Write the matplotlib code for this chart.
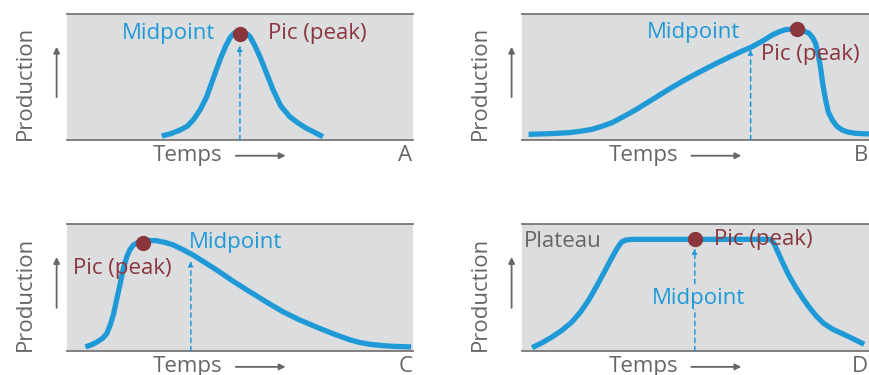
import matplotlib.pyplot as plt

plt.rcParams['font.family'] = ['Open Sans', 'DejaVu Sans']

# curve points (x: 0-100 time, y: 0-100 production)
a_x = [27.4, 30.0, 32.7, 34.8, 36.5, 38.5, 40.4, 42.3, 44.2, 45.8, 47.1, 48.2, 49.0, 50.0, 51.0, 51.9, 52.9, 54.3, 55.8, 57.7, 59.6, 61.8, 64.4, 66.8, 69.2, 71.6, 74.0]
a_y = [3.2, 5.0, 7.9, 11.0, 15.9, 24.0, 34.4, 49.0, 63.5, 74.0, 81.0, 84.5, 85.8, 86.0, 85.8, 84.5, 82.0, 75.0, 66.0, 53.0, 39.7, 27.0, 18.5, 13.5, 9.3, 6.0, 2.6]

b_x = [1.9, 8.0, 13.5, 17.0, 20.2, 23.0, 26.0, 29.0, 32.7, 37.5, 42.3, 47.0, 51.9, 55.8, 59.6, 63.0, 66.3, 69.3, 72.1, 74.2, 76.0, 77.8, 79.3, 81.0, 82.7, 83.8, 84.6, 85.3, 86.0, 86.7, 87.5, 88.3, 89.4, 90.7, 92.3, 94.0, 96.2, 98.0, 100]
b_y = [4.5, 5.0, 5.8, 7.0, 8.5, 10.8, 13.8, 18.2, 23.8, 32.0, 40.2, 47.8, 55.0, 60.5, 65.6, 70.0, 74.0, 78.5, 83.3, 86.0, 87.6, 88.0, 87.8, 86.8, 84.7, 81.0, 76.7, 68.5, 58.2, 44.0, 31.7, 22.0, 15.9, 11.0, 7.9, 6.2, 5.3, 5.0, 4.8]

c_x = [5.3, 7.0, 8.7, 10.3, 11.5, 12.5, 13.5, 14.4, 15.4, 16.3, 17.3, 18.2, 19.2, 20.6, 22.1, 24.0, 26.0, 28.3, 30.8, 33.5, 36.5, 39.8, 43.3, 48.0, 52.9, 57.7, 62.5, 67.3, 72.1, 77.0, 81.7, 84.5, 87.5, 91.0, 94.2, 99.5]
c_y = [3.2, 4.8, 7.1, 10.0, 13.7, 20.5, 29.5, 41.0, 53.2, 65.0, 74.2, 79.8, 83.4, 85.6, 86.6, 87.0, 86.8, 85.5, 83.4, 79.8, 75.5, 69.8, 63.7, 55.0, 46.6, 38.5, 30.8, 24.4, 18.9, 13.5, 8.9, 6.8, 5.3, 4.3, 3.7, 3.2]

d_x = [2.9, 5.8, 8.7, 11.6, 14.4, 16.8, 19.2, 21.6, 24.0, 25.8, 27.4, 28.2, 28.8, 30.0, 31.7, 42.3, 56.0, 71.2, 72.0, 72.6, 73.8, 75.0, 76.8, 78.8, 80.8, 82.7, 84.8, 87.0, 89.6, 92.3, 95.5, 98.6]
d_y = [2.6, 6.5, 11.1, 16.5, 22.9, 30.5, 40.0, 51.5, 63.7, 73.0, 80.8, 84.0, 86.0, 87.4, 87.9, 87.9, 87.9, 87.9, 86.8, 84.7, 77.5, 70.3, 60.0, 50.5, 42.0, 34.7, 27.5, 21.6, 17.0, 13.7, 9.5, 5.3]

# peak dot, midpoint arrow (x, top)
peaks = {'A': (50.0, 84.0), 'B': (79.3, 88.0), 'C': (21.9, 84.7), 'D': (49.8, 87.9)}
mids = {'A': (50.0, 75.0), 'B': (65.9, 72.0), 'C': (35.8, 70.8), 'D': (49.8, 80.8)}

blue = '#1f9ad6'
red = '#8a363c'
gray = '#666666'
bg = '#dcdddf'
fs = 16

fig = plt.figure(figsize=(8.69, 3.75), dpi=100)
boxes = {'A': [0.0771, 0.6267, 0.398, 0.336],
         'B': [0.6007, 0.6267, 0.3993, 0.336],
         'C': [0.0771, 0.064, 0.398, 0.3387],
         'D': [0.6007, 0.064, 0.3993, 0.3387]}
curves = {'A': (a_x, a_y), 'B': (b_x, b_y), 'C': (c_x, c_y), 'D': (d_x, d_y)}

for key in ['A', 'B', 'C', 'D']:
    ax = fig.add_axes(boxes[key])
    ax.set_facecolor(bg)
    ax.set_xlim(0, 100)
    ax.set_ylim(0, 100)
    ax.set_xticks([])
    ax.set_yticks([])
    for s in ['left', 'right']:
        ax.spines[s].set_visible(False)
    for s in ['top', 'bottom']:
        ax.spines[s].set_color('#777777')
        ax.spines[s].set_linewidth(1.3)

    mx, my = mids[key]
    ax.annotate('', xy=(mx, my), xytext=(mx, 0),
                arrowprops=dict(arrowstyle='-|>', color=blue, lw=1.1, ls=(0, (3, 2.5)),
                                mutation_scale=7, shrinkA=0, shrinkB=0))
    xs, ys = curves[key]
    ax.plot(xs, ys, color=blue, lw=3.8, solid_joinstyle='round', solid_capstyle='butt', clip_on=False)
    px, py = peaks[key]
    ax.plot(px, py, 'o', color=red, ms=10, zorder=5)

    # axis decorations
    ax.text(-0.121, 0.45, 'Production', transform=ax.transAxes, rotation=90,
            ha='center', va='center', color=gray, fontsize=fs)
    ax.annotate('', xy=(-0.03, 0.74), xytext=(-0.03, 0.34), xycoords='axes fraction',
                arrowprops=dict(arrowstyle='-|>', color=gray, lw=1.3, mutation_scale=9,
                                shrinkA=0, shrinkB=0), annotation_clip=False)
    ax.text(0.35, -0.125, 'Temps', transform=ax.transAxes, ha='center', va='center',
            color=gray, fontsize=fs)
    ax.annotate('', xy=(0.632, -0.125), xytext=(0.488, -0.125), xycoords='axes fraction',
                arrowprops=dict(arrowstyle='-|>', color=gray, lw=1.3, mutation_scale=9,
                                shrinkA=0, shrinkB=0), annotation_clip=False)
    ax.text(0.998, -0.125, key, transform=ax.transAxes, ha='right', va='center',
            color=gray, fontsize=fs)

    if key == 'A':
        ax.text(42.8, 84.7, 'Midpoint', color=blue, ha='right', va='center', fontsize=fs)
        ax.text(58.2, 84.7, 'Pic (peak)', color=red, ha='left', va='center', fontsize=fs)
    elif key == 'B':
        ax.text(63.0, 85.4, 'Midpoint', color=blue, ha='right', va='center', fontsize=fs)
        ax.text(68.8, 67.5, 'Pic (peak)', color=red, ha='left', va='center', fontsize=fs)
    elif key == 'C':
        ax.text(35.1, 85.3, 'Midpoint', color=blue, ha='left', va='center', fontsize=fs)
        ax.text(1.7, 65.0, 'Pic (peak)', color=red, ha='left', va='center', fontsize=fs)
    else:
        ax.text(51.0, 41.6, 'Midpoint', color=blue, ha='center', va='center', fontsize=fs,
                bbox=dict(facecolor=bg, edgecolor='none', pad=0.5))
        ax.text(55.3, 87.9, 'Pic (peak)', color=red, ha='left', va='center', fontsize=fs)
        ax.text(0.5, 86.0, 'Plateau', color=gray, ha='left', va='center', fontsize=fs)

fig.savefig('out.png', dpi=100)
